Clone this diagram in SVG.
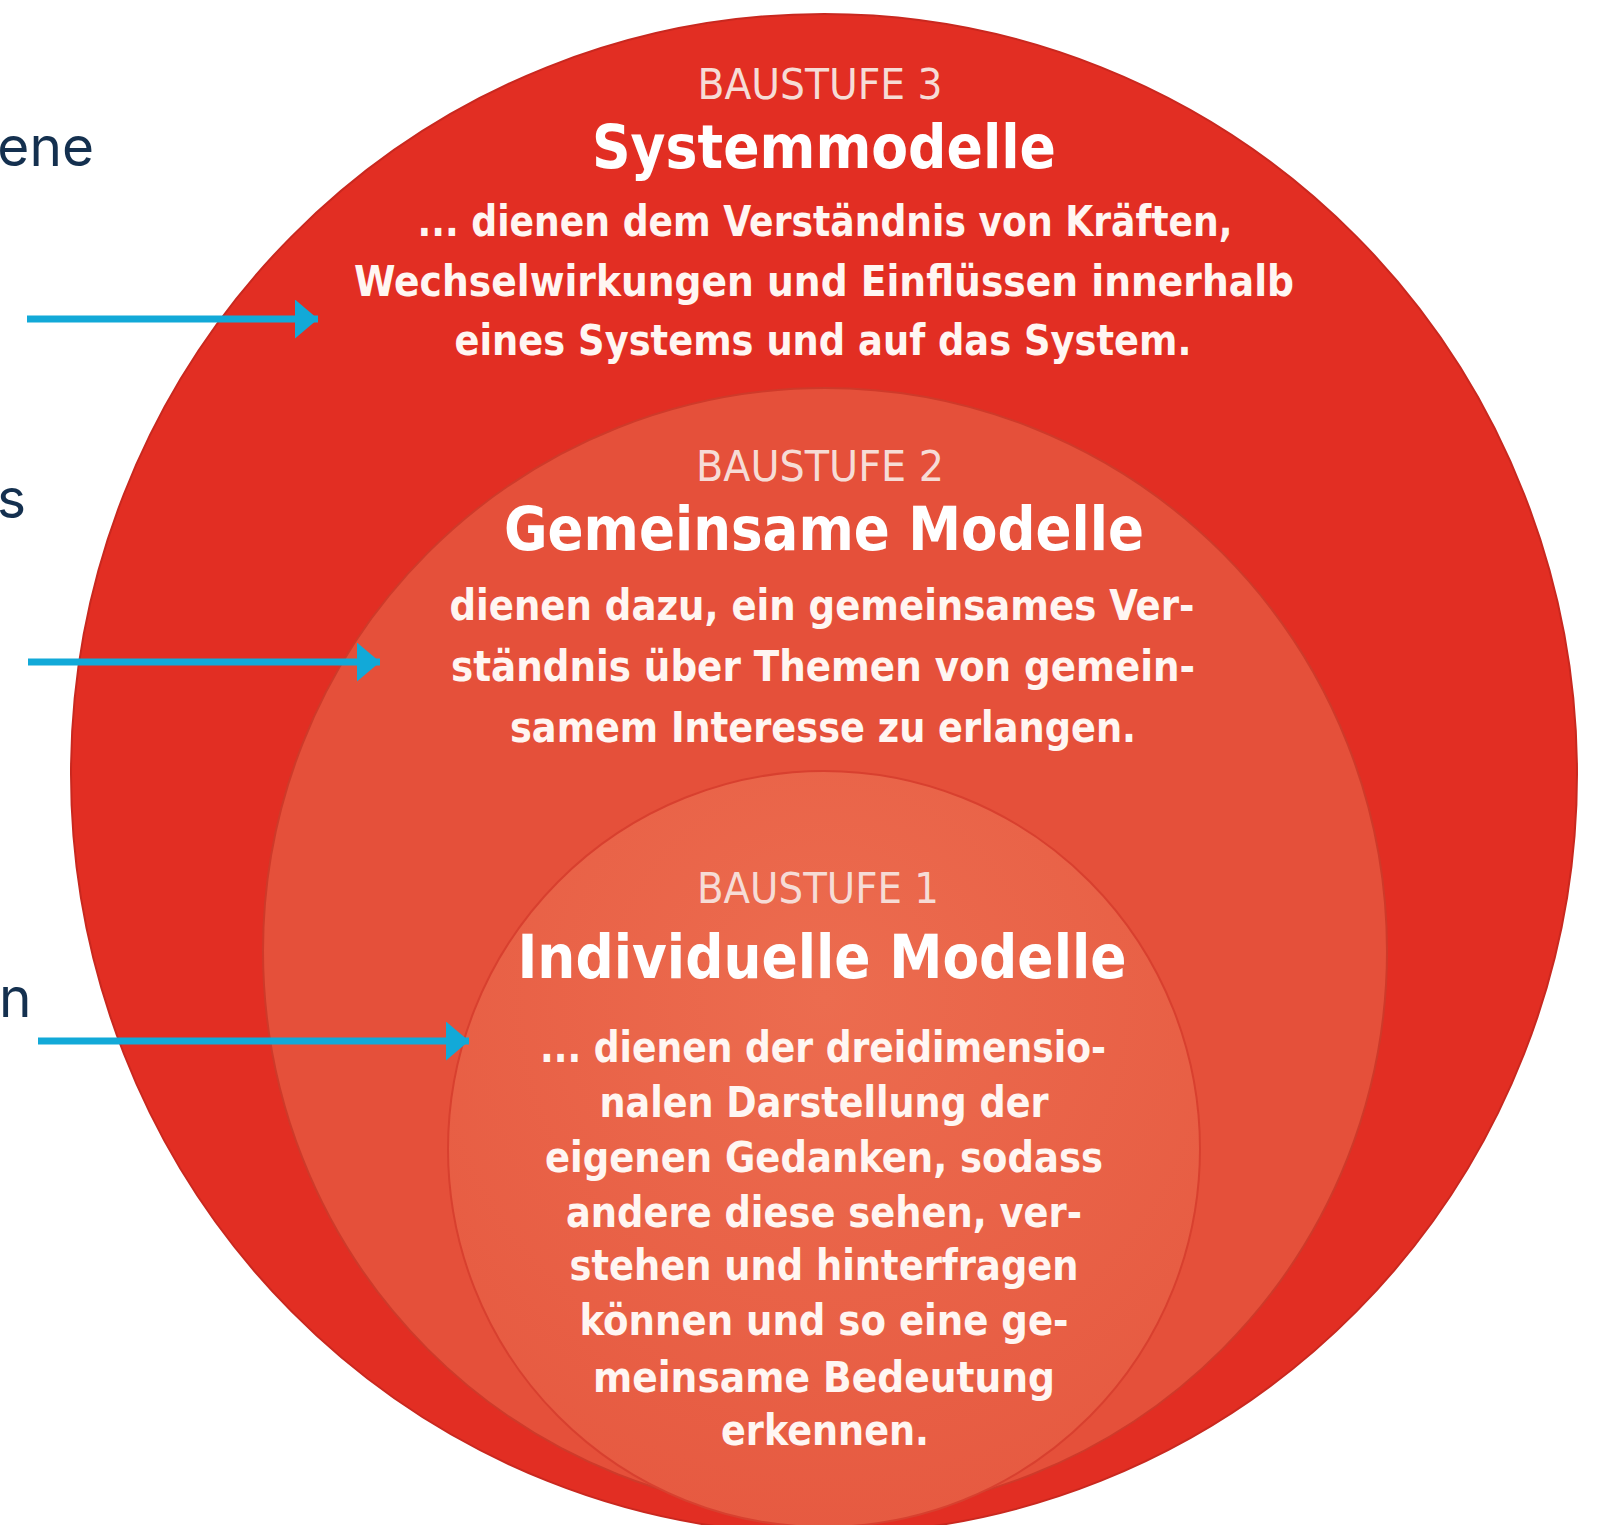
<svg xmlns="http://www.w3.org/2000/svg" width="1598" height="1525" viewBox="0 0 1598 1525">
  <style>
    .lbl { font-family: Inter, "Open Sans", "Liberation Sans", sans-serif; font-size: 55px; fill: #14304f; }
    .stage { font-family: "Liberation Sans Narrow", "DejaVu Sans Condensed", "Liberation Sans", sans-serif; font-size: 43px; fill: #f6dcd6; text-anchor: middle; }
    .title { font-family: "Liberation Sans Narrow", "DejaVu Sans Condensed", "Liberation Sans", sans-serif; font-size: 60px; font-weight: bold; fill: #ffffff; text-anchor: middle; }
    .body { font-family: "Liberation Sans Narrow", "DejaVu Sans Condensed", "Liberation Sans", sans-serif; font-size: 43px; font-weight: bold; fill: #fff6f2; text-anchor: middle; }
    .arrow { stroke: #12a9d8; stroke-width: 7; fill: none; }
  </style>
  <defs>
    <marker id="head" markerUnits="userSpaceOnUse" markerWidth="24" markerHeight="40" refX="23" refY="19.5" orient="auto">
      <path d="M0,0 L23,19.5 L0,39 Z" fill="#12a9d8"/>
    </marker>
    <radialGradient id="gInner" cx="0.5" cy="0.3" r="0.75">
      <stop offset="0" stop-color="#ec6c4f"/>
      <stop offset="1" stop-color="#e65940"/>
    </radialGradient>
  </defs>
  <rect width="1598" height="1525" fill="#ffffff"/>

  <g id="left-labels">
    <text class="lbl" x="94" y="166" text-anchor="end">ene</text>
    <text class="lbl" x="-3" y="518">s</text>
    <text class="lbl" x="-1" y="1017">n</text>
  </g>

  <g id="stage3">
    <ellipse cx="824" cy="774" rx="753" ry="760" fill="#e22e23" stroke="#c9281f" stroke-width="2"/>
    <text class="stage" x="820" y="99" textLength="245" lengthAdjust="spacingAndGlyphs">BAUSTUFE 3</text>
    <text class="title" x="824" y="168" textLength="464" lengthAdjust="spacingAndGlyphs">Systemmodelle</text>
    <text class="body" x="825" y="236" textLength="815" lengthAdjust="spacingAndGlyphs">... dienen dem Verständnis von Kräften,</text>
    <text class="body" x="824" y="296" textLength="940" lengthAdjust="spacingAndGlyphs">Wechselwirkungen und Einflüssen innerhalb</text>
    <text class="body" x="823" y="355" textLength="737" lengthAdjust="spacingAndGlyphs">eines Systems und auf das System.</text>
  </g>

  <g id="stage2">
    <ellipse cx="825" cy="951" rx="562" ry="563" fill="#e5503a" stroke="#cf3a2a" stroke-width="2"/>
    <text class="stage" x="820" y="481" textLength="248" lengthAdjust="spacingAndGlyphs">BAUSTUFE 2</text>
    <text class="title" x="824" y="550" textLength="640" lengthAdjust="spacingAndGlyphs">Gemeinsame Modelle</text>
    <text class="body" x="822" y="620" textLength="745" lengthAdjust="spacingAndGlyphs">dienen dazu, ein gemeinsames Ver-</text>
    <text class="body" x="823" y="681" textLength="744" lengthAdjust="spacingAndGlyphs">ständnis über Themen von gemein-</text>
    <text class="body" x="823" y="742" textLength="626" lengthAdjust="spacingAndGlyphs">samem Interesse zu erlangen.</text>
  </g>

  <g id="stage1">
    <ellipse cx="824" cy="1149" rx="376" ry="378" fill="url(#gInner)" stroke="#d8402f" stroke-width="2"/>
    <text class="stage" x="818" y="903" textLength="242" lengthAdjust="spacingAndGlyphs">BAUSTUFE 1</text>
    <text class="title" x="822" y="978" textLength="609" lengthAdjust="spacingAndGlyphs">Individuelle Modelle</text>
    <text class="body" x="823" y="1062" textLength="566" lengthAdjust="spacingAndGlyphs">... dienen der dreidimensio-</text>
    <text class="body" x="824" y="1117" textLength="449" lengthAdjust="spacingAndGlyphs">nalen Darstellung der</text>
    <text class="body" x="824" y="1172" textLength="558" lengthAdjust="spacingAndGlyphs">eigenen Gedanken, sodass</text>
    <text class="body" x="824" y="1227" textLength="516" lengthAdjust="spacingAndGlyphs">andere diese sehen, ver-</text>
    <text class="body" x="824" y="1280" textLength="509" lengthAdjust="spacingAndGlyphs">stehen und hinterfragen</text>
    <text class="body" x="824" y="1335" textLength="489" lengthAdjust="spacingAndGlyphs">können und so eine ge-</text>
    <text class="body" x="824" y="1392" textLength="462" lengthAdjust="spacingAndGlyphs">meinsame Bedeutung</text>
    <text class="body" x="825" y="1445" textLength="208" lengthAdjust="spacingAndGlyphs">erkennen.</text>
  </g>

  <g id="connectors">
    <line class="arrow" x1="27" y1="319" x2="318" y2="319" marker-end="url(#head)"/>
    <line class="arrow" x1="28" y1="662" x2="380" y2="662" marker-end="url(#head)"/>
    <line class="arrow" x1="38" y1="1041" x2="469" y2="1041" marker-end="url(#head)"/>
  </g>
</svg>
